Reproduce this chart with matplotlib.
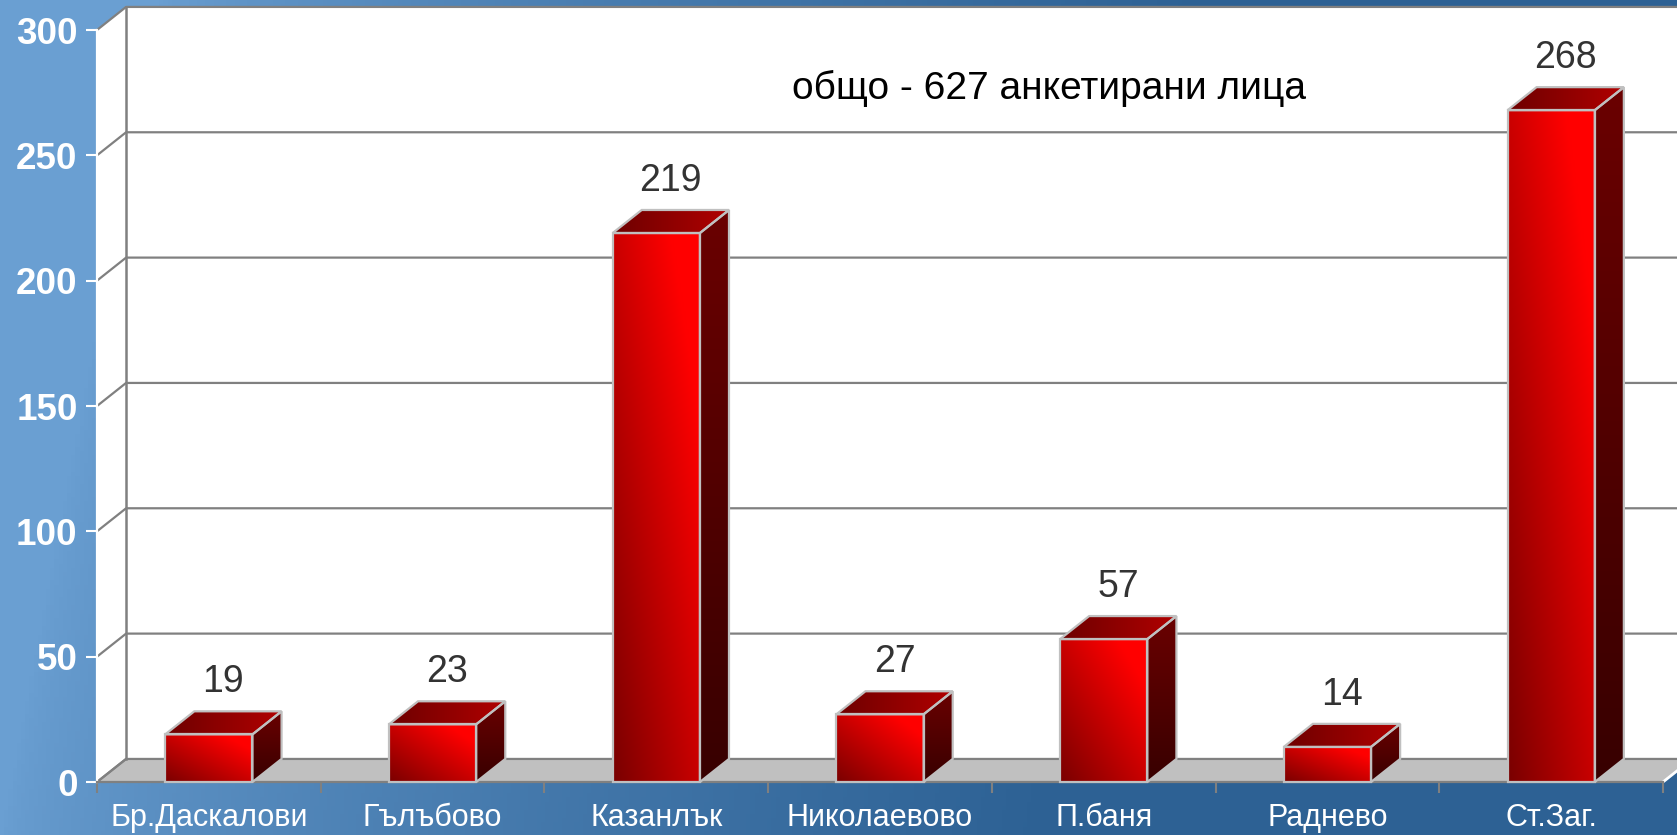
import numpy as np
import matplotlib.pyplot as plt
from matplotlib.patches import Polygon
from matplotlib.colors import to_rgb

plt.rcParams['font.family'] = ['Liberation Sans', 'DejaVu Sans']

cities = ["Бр.Даскалови", "Гълъбово", "Казанлък", "Николаевово", "П.баня", "Раднево", "Ст.Заг."]
counts = [19, 23, 219, 27, 57, 14, 268]
yticks = [0, 50, 100, 150, 200, 250, 300]
note = "общо - 627 анкетирани лица"

# fake 3d depth in data units
DX = 0.13
DY = 9.2
BAR_W = 0.39
EDGE = '#c0c0c0'
GRID = '#808080'

fig = plt.figure(figsize=(16.77, 8.35), dpi=100)

# blue backdrop
bg = fig.add_axes([0, 0, 1, 1], zorder=-5)
xx, yy = np.meshgrid(np.linspace(0, 1, 400), np.linspace(0, 1, 200))
t = np.clip(xx * 1.6 - 0.15 * yy, 0, 1) ** 0.7
c0 = np.array(to_rgb('#6a9fd2'))
c1 = np.array(to_rgb('#2d6194'))
img = c0[None, None, :] * (1 - t[..., None]) + c1[None, None, :] * t[..., None]
bg.imshow(img, extent=[0, 1, 0, 1], aspect='auto', origin='lower')
bg.axis('off')

ax = fig.add_axes([97 / 1677, 53 / 835, 1566 / 1677, 752 / 835])
ax.set_facecolor('none')
n = len(cities)
x = np.arange(n)


def grad_fill(verts, ca, cb, wx, wy, z):
    poly = Polygon(verts, closed=True, facecolor='none', edgecolor=EDGE,
                   lw=1.6, zorder=z + 0.1, clip_on=False)
    ax.add_patch(poly)
    xs = [p[0] for p in verts]
    ys = [p[1] for p in verts]
    gx, gy = np.meshgrid(np.linspace(0, 1, 60), np.linspace(0, 1, 60))
    tt = np.clip(wx * gx + wy * gy, 0, 1)
    a = np.array(to_rgb(ca))
    b = np.array(to_rgb(cb))
    arr = a[None, None, :] * (1 - tt[..., None]) + b[None, None, :] * tt[..., None]
    im = ax.imshow(arr, extent=[min(xs), max(xs), min(ys), max(ys)], origin='lower',
                   aspect='auto', zorder=z, interpolation='bilinear')
    im.set_clip_path(poly)


x0 = -0.5
x1 = n - 0.5
ytop = yticks[-1]

# walls and floor
ax.add_patch(Polygon([(x0 + DX, DY), (x1 + 1, DY), (x1 + 1, ytop + DY), (x0 + DX, ytop + DY)],
                     facecolor='white', edgecolor='none', zorder=0.2, clip_on=False))
ax.add_patch(Polygon([(x0, 0), (x0, ytop), (x0 + DX, ytop + DY), (x0 + DX, DY)],
                     facecolor='white', edgecolor='none', zorder=0.2, clip_on=False))
for v in yticks:
    ax.plot([x0, x0 + DX, x1 + 1], [v, v + DY, v + DY], color=GRID, lw=1.6,
            zorder=0.4, clip_on=False, solid_capstyle='butt')
ax.plot([x0 + DX, x0 + DX], [DY, ytop + DY], color=GRID, lw=1.8, zorder=0.4, clip_on=False)
ax.add_patch(Polygon([(x0, 0), (x1, 0), (x1 + DX, DY), (x0 + DX, DY)],
                     facecolor='#c0c0c0', edgecolor='none', zorder=0.3, clip_on=False))
ax.plot([x0, x0 + DX], [0, DY], color=GRID, lw=1.6, zorder=0.5, clip_on=False)
ax.plot([x1, x1 + DX], [0, DY], color='white', lw=2, zorder=0.5, clip_on=False)

# bars
for i, v in enumerate(counts):
    l = x[i] - BAR_W / 2
    r = x[i] + BAR_W / 2
    grad_fill([(l, 0), (r, 0), (r, v), (l, v)], '#7a0000', '#ff0000', 0.6, 0.6, 3)
    grad_fill([(l, v), (r, v), (r + DX, v + DY), (l + DX, v + DY)], '#6e0000', '#b80000', 0.9, 0.0, 3)
    grad_fill([(r, 0), (r + DX, DY), (r + DX, v + DY), (r, v)], '#380000', '#6a0000', 0.0, 1.0, 3)
    ax.annotate(str(v), (x[i] + DX / 2, v + DY), xytext=(0, 8), textcoords='offset points',
                ha='center', va='bottom', fontsize=27, color='#333333', zorder=6)

ax.text(3.756, 276.8, note, ha='center', va='center', fontsize=28, color='black', zorder=6)

ax.set_xlim(x0, x1)
ax.set_ylim(0, ytop)
for s in ['top', 'right']:
    ax.spines[s].set_visible(False)
ax.spines['left'].set_color('white')
ax.spines['left'].set_linewidth(1.6)
ax.spines['bottom'].set_color(GRID)
ax.spines['bottom'].set_linewidth(1.6)

ax.set_yticks(yticks)
ax.tick_params(axis='y', colors='white', length=8, width=1.5, pad=6, labelsize=26.5)
for lab in ax.get_yticklabels():
    lab.set_fontweight('bold')
ax.set_xticks(x)
ax.set_xticklabels(cities)
ax.set_xticks(np.arange(n + 1) - 0.5, minor=True)
ax.tick_params(axis='x', which='major', length=0, pad=15, labelsize=22, labelcolor='white')
ax.tick_params(axis='x', which='minor', length=8, width=1.5, color=GRID)

fig.savefig('out.png', dpi=100)
